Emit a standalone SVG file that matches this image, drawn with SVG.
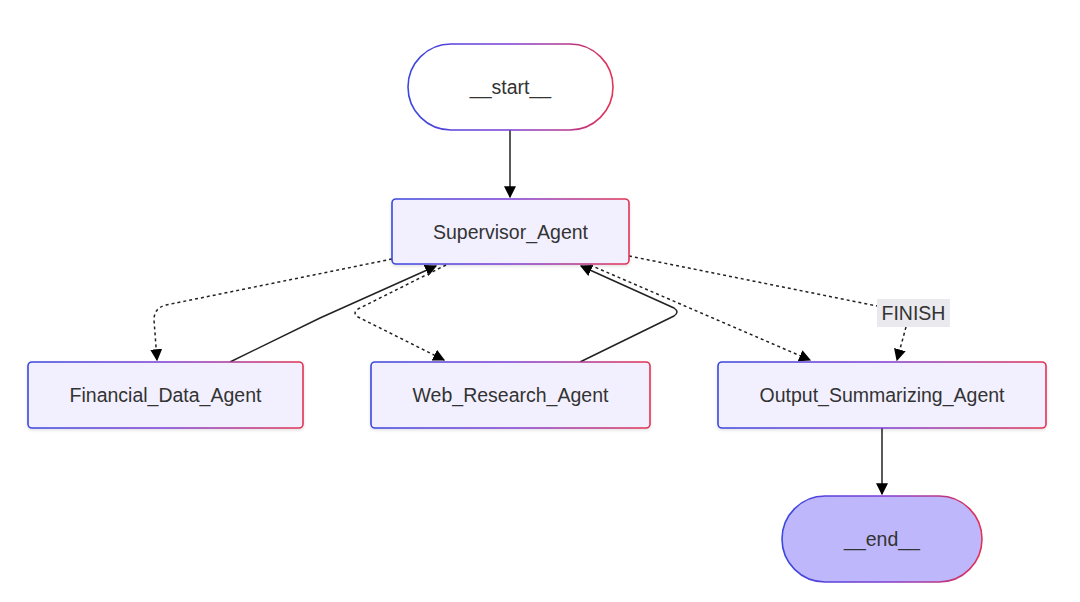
<svg xmlns="http://www.w3.org/2000/svg" width="1080" height="602" viewBox="0 0 1080 602">
<defs>
<linearGradient id="g" x1="0" y1="0" x2="1" y2="0">
<stop offset="0" stop-color="#3a48df"/>
<stop offset="0.5" stop-color="#7d3cd4"/>
<stop offset="1" stop-color="#e23353"/>
</linearGradient>
<marker id="ah" viewBox="0 0 10 10" refX="9" refY="5" markerWidth="12" markerHeight="12" markerUnits="userSpaceOnUse" orient="auto">
<path d="M0,0 L10,5 L0,10 z" fill="#000"/>
</marker>
<filter id="sh" x="-10%" y="-10%" width="120%" height="130%">
<feDropShadow dx="0" dy="1.5" stdDeviation="1.5" flood-color="#000" flood-opacity="0.12"/>
</filter>
</defs>
<style>
.box{fill:#f2f0ff;stroke:url(#g);stroke-width:1.6;filter:url(#sh)}
.lbl{font-family:"Liberation Sans",Arial,sans-serif;font-size:19.5px;fill:#333;text-anchor:middle;dominant-baseline:central}
.e{fill:none;stroke:#222;stroke-width:1.5}
.d{fill:none;stroke:#222;stroke-width:1.5;stroke-dasharray:3 3}
</style>
<rect width="1080" height="602" fill="#fff"/>
<g id="connectors">
<path class="e" d="M510,130 L510,197" marker-end="url(#ah)"/>
<path class="d" d="M392,259 L166,305 Q154,308 154,320 L157,360" marker-end="url(#ah)"/>
<path class="e" d="M230,362 L320,318 L436,266" marker-end="url(#ah)"/>
<path class="d" d="M446,265 L358,309 Q352,313 358,317 L444,360" marker-end="url(#ah)"/>
<path class="e" d="M580,362 L674,316 Q680,312 674,308 L581,266" marker-end="url(#ah)"/>
<path class="d" d="M590,265 L810,360" marker-end="url(#ah)"/>
<path class="d" d="M629,256 L877,306"/>
<path class="d" d="M906,327 L897,360" marker-end="url(#ah)"/>
<path class="e" d="M882,428 L882,494" marker-end="url(#ah)"/>
</g>
<g id="finish-label">
<rect x="877" y="299" width="73" height="28" fill="#e9e9ee"/>
<text class="lbl" x="913.5" y="313">FINISH</text>
</g>
<g id="start">
<rect x="408" y="44" width="205" height="86" rx="43" ry="43" fill="#fff" stroke="url(#g)" stroke-width="1.6"/>
<text class="lbl" x="510.5" y="87">__start__</text>
</g>
<g id="supervisor">
<rect class="box" x="392" y="199" width="237" height="65" rx="4"/>
<text class="lbl" x="510.5" y="231.5">Supervisor_Agent</text>
</g>
<g id="financial">
<rect class="box" x="28" y="362" width="275" height="66" rx="4"/>
<text class="lbl" x="165.5" y="395">Financial_Data_Agent</text>
</g>
<g id="web">
<rect class="box" x="371" y="362" width="279" height="66" rx="4"/>
<text class="lbl" x="510.5" y="395">Web_Research_Agent</text>
</g>
<g id="output">
<rect class="box" x="718" y="362" width="328" height="66" rx="4"/>
<text class="lbl" x="882" y="395">Output_Summarizing_Agent</text>
</g>
<g id="end">
<rect x="782" y="496" width="200" height="86" rx="43" ry="43" fill="#bfb7fb" stroke="url(#g)" stroke-width="1.6"/>
<text class="lbl" x="882" y="539">__end__</text>
</g>
</svg>
